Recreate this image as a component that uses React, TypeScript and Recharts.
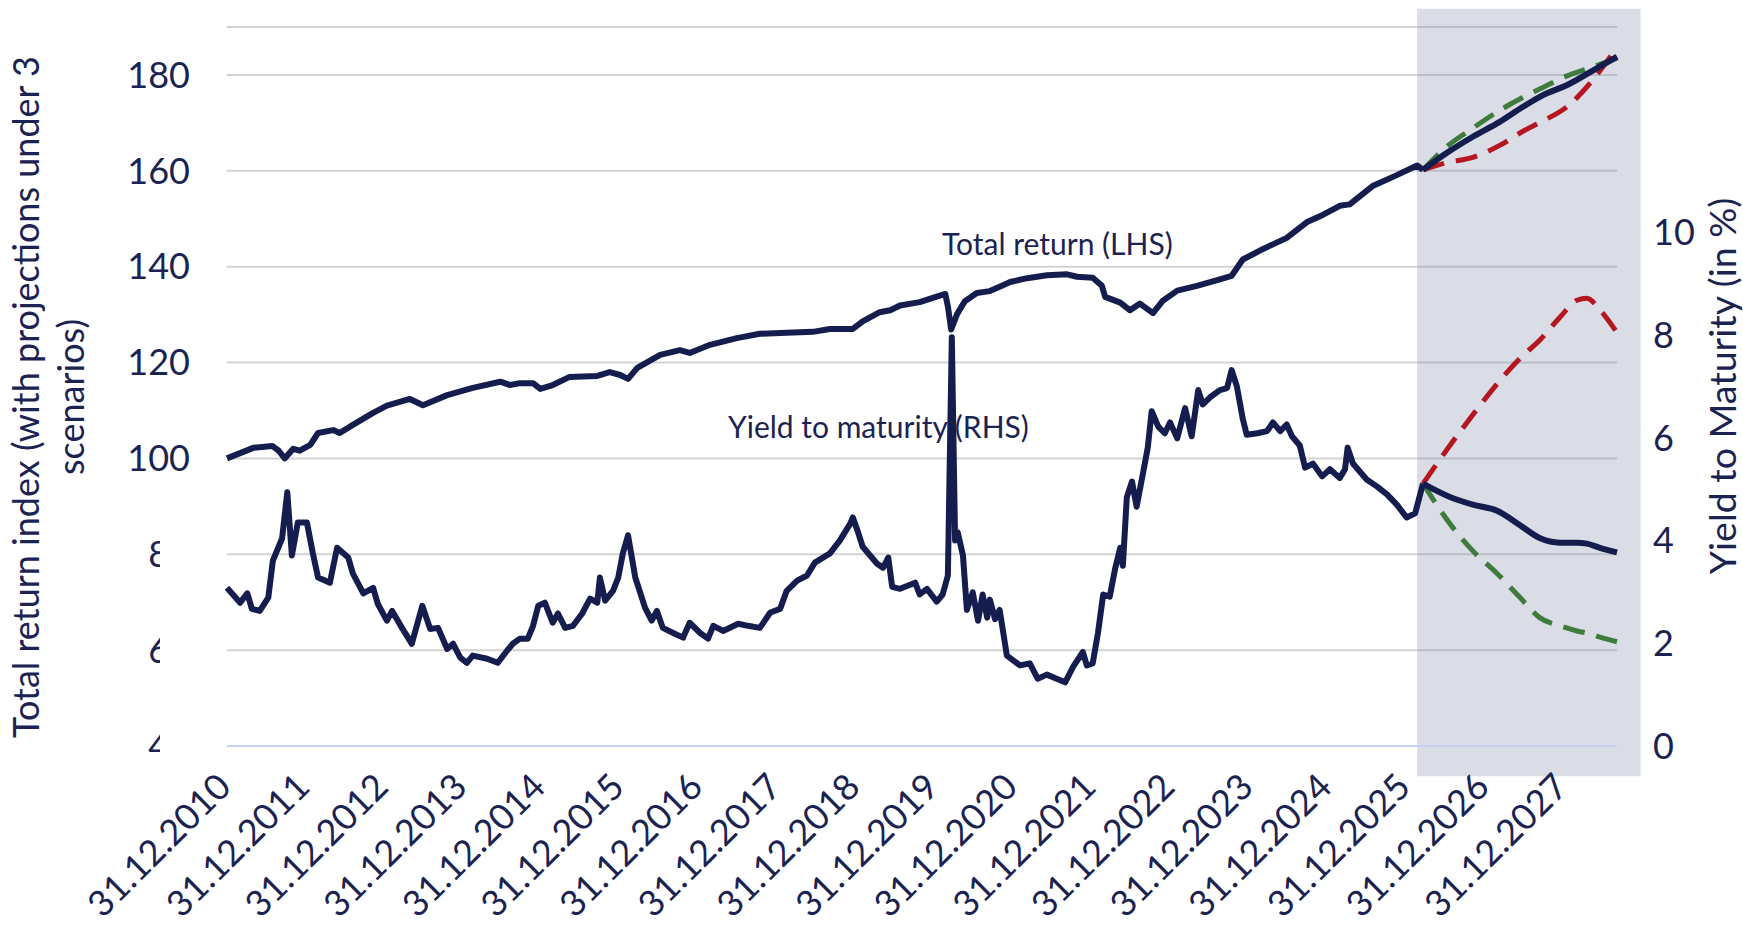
import { CartesianGrid, Line, LineChart, ReferenceArea, ReferenceLine, XAxis, YAxis } from "recharts";

const NAVY = "#151d4f";
const TEXT = "#1b2352";
const RED = "#b5161f";
const GREEN = "#3e7b3c";
const FONT = "Lato, 'Open Sans', sans-serif";

// x = months after 31.12.2010
const xTickLabels = [
  "31.12.2010", "31.12.2011", "31.12.2012", "31.12.2013", "31.12.2014", "31.12.2015",
  "31.12.2016", "31.12.2017", "31.12.2018", "31.12.2019", "31.12.2020", "31.12.2021",
  "31.12.2022", "31.12.2023", "31.12.2024", "31.12.2025", "31.12.2026", "31.12.2027"
];
const leftTicks = [40, 60, 80, 100, 120, 140, 160, 180];
const rightTicks = [0, 2, 4, 6, 8, 10];

// total return index, history
const trMonths = [
  0, 4.0, 6.9, 7.9, 8.8, 10.1, 11.1, 12.7, 13.9, 16.2, 17.2, 19.2, 22.3, 24.4, 27.9, 29.9, 33.6,
  37.5, 41.7, 43.2, 44.7, 46.7, 47.8, 49.7, 52.3, 56.5, 58.4, 60.0, 61.2, 62.6, 66.1, 69.1,
  70.6, 73.7, 77.8, 81.3, 85.4, 89.4, 92.0, 95.5, 97.0, 99.6, 101.2, 102.7, 105.7, 107.7,
  109.6, 110.0, 110.5, 111.4, 112.6, 114.4, 116.4, 117.9, 119.5, 122.1, 125.1, 128.2, 129.7,
  132.1, 133.5, 134.0, 136.3, 137.8, 139.3, 141.3, 142.8, 145.0, 148.0, 151.1, 153.3, 155.0,
  158.1, 161.7, 164.8, 167.2, 169.8, 171.3, 174.9, 178.5, 181.6, 182.5
];
const trValues = [
  100, 102.2, 102.6, 101.6, 100.0, 102.0, 101.6, 102.8, 105.3, 105.9, 105.3, 107.0, 109.5, 111.0,
  112.4, 111.1, 113.2, 114.7, 116.0, 115.3, 115.7, 115.7, 114.5, 115.3, 117.0, 117.2, 118.0,
  117.4, 116.6, 118.9, 121.6, 122.6, 122.0, 123.7, 125.1, 126.0, 126.2, 126.4, 127.0, 127.0,
  128.6, 130.5, 130.9, 131.9, 132.6, 133.5, 134.3, 131.7, 126.9, 130.1, 132.8, 134.5, 134.9,
  135.8, 136.8, 137.6, 138.2, 138.4, 137.9, 137.7, 136.0, 133.7, 132.5, 130.9, 132.3, 130.3,
  132.9, 135.0, 136.0, 137.2, 138.1, 141.5, 143.7, 146.0, 149.3, 150.8, 152.7, 153.0, 156.9,
  159.1, 161.1, 160.2
];

// total return index, projections
const projMonths = [182.5, 186.1, 190.1, 194.2, 197.7, 200.8, 204.5, 208.0, 212.1];
const trBase = [160.2, 163.7, 167.1, 170.2, 173.3, 175.8, 177.9, 180.6, 183.8];
const trGreen = [160.2, 165.0, 168.9, 172.6, 175.3, 177.4, 179.8, 181.5, 183.5];
const trRed = [160.2, 161.7, 162.8, 165.3, 168.2, 170.4, 173.4, 178.3, 185.8];

// yield to maturity, history
const ytmMonths = [
  0, 2.0, 3.1, 3.8, 5.0, 6.3, 7.0, 8.4, 9.2, 9.9, 10.8, 12.2, 13.1, 13.9, 15.7, 16.8, 18.5,
  19.2, 20.8, 22.3, 23.0, 24.4, 25.2, 26.7, 28.2, 29.8, 31.0, 32.2, 33.6, 34.5, 35.6, 36.6,
  37.5, 39.7, 41.3, 42.7, 43.6, 44.7, 45.9, 46.7, 47.5, 48.5, 49.7, 50.5, 51.6, 52.8, 54.2,
  55.4, 56.5, 56.9, 57.7, 58.9, 59.7, 60.4, 61.2, 62.3, 63.8, 64.8, 65.6, 66.5, 68.4, 69.6,
  70.6, 72.2, 73.4, 74.2, 75.7, 78.0, 79.5, 81.3, 82.9, 84.4, 85.4, 87.0, 88.5, 89.7, 92.0,
  93.5, 95.1, 95.5, 96.3, 97.0, 99.2, 100.1, 100.9, 101.5, 102.7, 105.0, 105.7, 106.8, 108.3,
  109.2, 110.0, 110.6, 111.1, 111.5, 112.3, 112.9, 113.8, 114.6, 115.3, 116.0, 116.4, 117.2,
  117.9, 119.0, 121.0, 122.5, 123.7, 125.1, 126.6, 127.9, 129.1, 130.6, 131.2, 132.1, 132.9,
  133.7, 134.7, 135.5, 136.3, 136.7, 137.3, 138.1, 138.8, 139.8, 140.5, 141.1, 142.1, 143.1,
  143.9, 145.0, 146.2, 147.2, 148.2, 148.9, 150.0, 151.5, 152.6, 153.3, 154.1, 155.0, 155.6,
  157.2, 158.7, 159.6, 160.7, 161.7, 162.5, 163.7, 164.5, 165.7, 167.1, 168.3, 169.8, 170.6,
  171.0, 171.8, 173.9, 175.5, 177.0, 178.5, 180.0, 181.3, 182.5
];
const ytmValues = [
  3.08, 2.79, 2.97, 2.67, 2.63, 2.89, 3.61, 4.04, 4.94, 3.71, 4.35, 4.35, 3.75, 3.28, 3.18, 3.86,
  3.67, 3.36, 2.97, 3.08, 2.77, 2.44, 2.63, 2.30, 1.99, 2.73, 2.28, 2.30, 1.89, 1.99, 1.72, 1.62,
  1.76, 1.70, 1.62, 1.85, 1.99, 2.09, 2.09, 2.34, 2.73, 2.79, 2.40, 2.58, 2.30, 2.34, 2.58, 2.87,
  2.79, 3.28, 2.83, 3.02, 3.28, 3.75, 4.10, 3.28, 2.69, 2.44, 2.63, 2.30, 2.18, 2.11, 2.40, 2.20,
  2.09, 2.34, 2.24, 2.38, 2.34, 2.30, 2.60, 2.67, 3.02, 3.22, 3.32, 3.57, 3.75, 4.00, 4.33, 4.45,
  4.16, 3.88, 3.55, 3.47, 3.67, 3.10, 3.06, 3.18, 2.95, 3.06, 2.81, 2.95, 3.32, 7.96, 4.00, 4.16,
  3.71, 2.65, 2.99, 2.44, 2.95, 2.50, 2.85, 2.47, 2.65, 1.76, 1.57, 1.61, 1.31, 1.39, 1.31, 1.24,
  1.54, 1.83, 1.57, 1.61, 2.20, 2.95, 2.91, 3.44, 3.86, 3.51, 4.84, 5.15, 4.66, 5.33, 5.81, 6.52,
  6.22, 6.09, 6.30, 5.99, 6.58, 6.03, 6.93, 6.65, 6.79, 6.93, 6.97, 7.32, 7.00, 6.37, 6.06, 6.09,
  6.13, 6.30, 6.13, 6.26, 6.03, 5.85, 5.42, 5.50, 5.25, 5.39, 5.22, 5.39, 5.81, 5.50, 5.19, 5.05,
  4.90, 4.70, 4.45, 4.53, 5.11
];

// yield to maturity, projections
const ytmProjMonths = [182.5, 186.6, 190.1, 193.8, 197.3, 200.3, 203.4, 206.0, 207.5, 209.5, 212.1];
const ytmBase = [5.11, 4.85, 4.70, 4.58, 4.30, 4.05, 3.96, 3.96, 3.94, 3.86, 3.77];
const ytmGreen = [5.11, 4.33, 3.80, 3.36, 2.89, 2.50, 2.34, 2.24, 2.20, 2.12, 2.03];
const ytmRed = [5.11, 5.85, 6.45, 7.05, 7.55, 7.90, 8.35, 8.68, 8.72, 8.49, 8.05];

const projectionStart = 181.6;
const projectionEnd = 215.7;

const zip = (xs: number[], ys: number[]) => xs.map((m, i) => ({ m, v: ys[i] }));

const trHist = zip(trMonths, trValues);
const trBaseData = zip(projMonths, trBase);
const trGreenData = zip(projMonths, trGreen);
const trRedData = zip(projMonths, trRed);
const ytmHist = zip(ytmMonths, ytmValues);
const ytmBaseData = zip(ytmProjMonths, ytmBase);
const ytmGreenData = zip(ytmProjMonths, ytmGreen);
const ytmRedData = zip(ytmProjMonths, ytmRed);

const xTicks = xTickLabels.map((_, i) => i * 12);

function XTick({ x, y, payload }: any) {
  const label = xTickLabels[Math.round(payload.value / 12)];
  const tx = x + 6;
  return (
    <text x={tx} y={y} transform={`rotate(-45 ${tx} ${y})`} textAnchor="end" fill={TEXT} fontSize={36} fontFamily={FONT}>
      {label}
    </text>
  );
}

function LeftTick({ x, y, payload }: any) {
  // labels below 100 are partly hidden in the original
  const hidden = payload.value < 100;
  const id = `lt-clip-${payload.value}`;
  return (
    <g>
      {hidden && (
        <defs>
          <clipPath id={id}>
            <rect x={0} y={y - 30} width={160} height={60} />
          </clipPath>
        </defs>
      )}
      <text
        x={x}
        y={y}
        dy="0.355em"
        textAnchor="end"
        fill={TEXT}
        fontSize={36}
        fontFamily={FONT}
        clipPath={hidden ? `url(#${id})` : undefined}
      >
        {payload.value}
      </text>
    </g>
  );
}

function RightTick({ x, y, payload }: any) {
  return (
    <text x={x} y={y} dy="0.355em" textAnchor="start" fill={TEXT} fontSize={36} fontFamily={FONT}>
      {payload.value}
    </text>
  );
}

export default function App() {
  return (
    <div style={{ position: "absolute", left: 0, top: 0, width: 1743, height: 929, background: "#fff" }}>
      <svg width={1743} height={929} style={{ position: "absolute", left: 0, top: 0 }}>
        <g fontFamily={FONT} fill={TEXT}>
          <text transform="translate(39 397) rotate(-90)" textAnchor="middle" fontSize={36}>
            Total return index (with projections under 3
          </text>
          <text transform="translate(84 397) rotate(-90)" textAnchor="middle" fontSize={36}>
            scenarios)
          </text>
          <text transform="translate(1736 386) rotate(-90)" textAnchor="middle" fontSize={37.5}>
            Yield to Maturity (in %)
          </text>
          <text x={942} y={255} fontSize={30}>
            Total return (LHS)
          </text>
          <text x={728} y={438} fontSize={30}>
            Yield to maturity (RHS)
          </text>
        </g>
      </svg>
      <div style={{ position: "absolute", left: 0, top: 0 }}>
        <LineChart width={1743} height={929} margin={{ top: 27, right: 0, bottom: 0, left: 0 }}>
          <CartesianGrid yAxisId="left" vertical={false} stroke="#d3d3d3" strokeWidth={2} />
          <ReferenceLine yAxisId="left" y={40} stroke="#c9cff0" strokeWidth={2} />
          <ReferenceArea
            yAxisId="left"
            x1={projectionStart}
            x2={projectionEnd}
            y1={33.7}
            y2={193.8}
            ifOverflow="visible"
            fill="#7f8aa8"
            fillOpacity={0.29}
            stroke="none"
          />
          <XAxis
            dataKey="m"
            type="number"
            domain={[0, 212.1]}
            ticks={xTicks}
            interval={0}
            height={183}
            axisLine={false}
            tickLine={false}
            tickMargin={37}
            tick={<XTick />}
          />
          <YAxis
            yAxisId="left"
            orientation="left"
            width={227}
            domain={[40, 190]}
            ticks={leftTicks}
            axisLine={false}
            tickLine={false}
            tickMargin={31}
            tick={<LeftTick />}
          />
          <YAxis
            yAxisId="right"
            orientation="right"
            width={126}
            domain={[0, 14]}
            ticks={rightTicks}
            axisLine={false}
            tickLine={false}
            tickMargin={30}
            tick={<RightTick />}
          />
          <Line yAxisId="right" data={ytmGreenData} dataKey="v" type="monotone" stroke={GREEN} strokeWidth={5} strokeDasharray="22 12" dot={false} isAnimationActive={false} />
          <Line yAxisId="right" data={ytmRedData} dataKey="v" type="monotone" stroke={RED} strokeWidth={5} strokeDasharray="22 12" dot={false} isAnimationActive={false} />
          <Line yAxisId="left" data={trGreenData} dataKey="v" type="monotone" stroke={GREEN} strokeWidth={5} strokeDasharray="22 12" dot={false} isAnimationActive={false} />
          <Line yAxisId="left" data={trRedData} dataKey="v" type="monotone" stroke={RED} strokeWidth={5} strokeDasharray="22 12" dot={false} isAnimationActive={false} />
          <Line yAxisId="right" data={ytmHist} dataKey="v" type="linear" stroke={NAVY} strokeWidth={6} strokeLinejoin="round" dot={false} isAnimationActive={false} />
          <Line yAxisId="right" data={ytmBaseData} dataKey="v" type="monotone" stroke={NAVY} strokeWidth={6} dot={false} isAnimationActive={false} />
          <Line yAxisId="left" data={trHist} dataKey="v" type="linear" stroke={NAVY} strokeWidth={6} strokeLinejoin="round" dot={false} isAnimationActive={false} />
          <Line yAxisId="left" data={trBaseData} dataKey="v" type="monotone" stroke={NAVY} strokeWidth={6} dot={false} isAnimationActive={false} />
        </LineChart>
      </div>
    </div>
  );
}
